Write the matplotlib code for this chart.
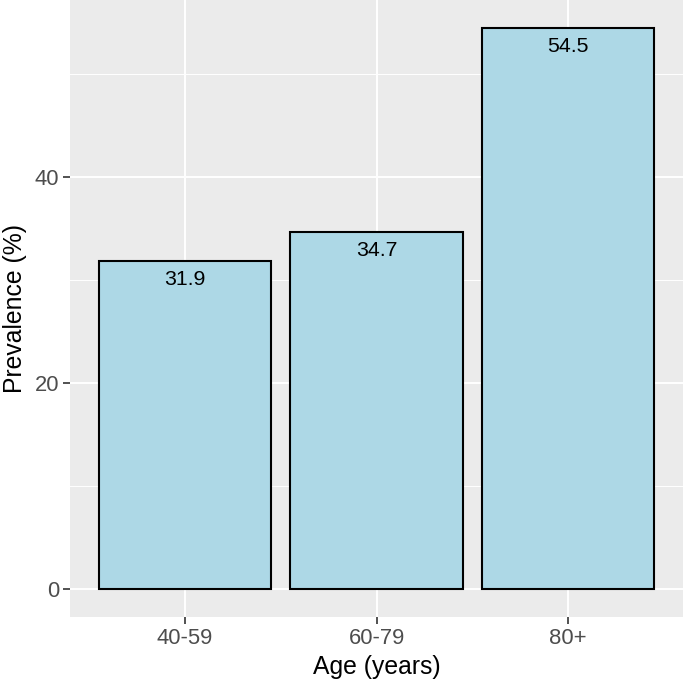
import matplotlib
matplotlib.use("Agg")
import matplotlib.pyplot as plt

categories = ["40-59", "60-79", "80+"]
values = [31.9, 34.7, 54.5]
yticks = [0, 20, 40]

plt.rcParams['font.family'] = ['Liberation Sans', 'DejaVu Sans']

fig = plt.figure(figsize=(6.85, 6.86), dpi=100)
ax = fig.add_axes([70/685, 1-617/686, (683-70)/685, 617/686])
ax.set_facecolor('#EBEBEB')
x = list(range(1, len(categories)+1))
ax.bar(x, values, width=0.9, color='#ADD8E6', edgecolor='black', linewidth=1.5, zorder=3)
for xi, v in zip(x, values):
    ax.annotate(f"{v:.1f}", (xi, v), xytext=(0, -6.5), textcoords='offset points',
                ha='center', va='top', fontsize=15.3, color='black', zorder=4)
ymax = max(values)
ax.set_ylim(-0.05*ymax, ymax*1.05)
ax.set_xlim(0.4, len(categories)+0.6)
ax.set_xticks(x)
ax.set_xticklabels(categories)
ax.set_yticks(yticks)
ax.set_yticks([10, 30, 50], minor=True)
ax.set_xticks([], minor=True)
ax.grid(True, which='major', color='white', linewidth=1.4, zorder=0)
ax.grid(True, which='minor', axis='y', color='white', linewidth=0.7, zorder=0)
for s in ax.spines.values():
    s.set_visible(False)
ax.tick_params(axis='both', which='major', length=5, width=1.2, color='#333333',
               labelcolor='#4D4D4D', labelsize=15.8, pad=3)
ax.tick_params(axis='y', which='minor', length=0)
ax.set_xlabel("Age (years)", fontsize=17.8, labelpad=4)
ax.set_ylabel("Prevalence (%)", fontsize=17.8, labelpad=5)
fig.savefig("out.png", dpi=100)
